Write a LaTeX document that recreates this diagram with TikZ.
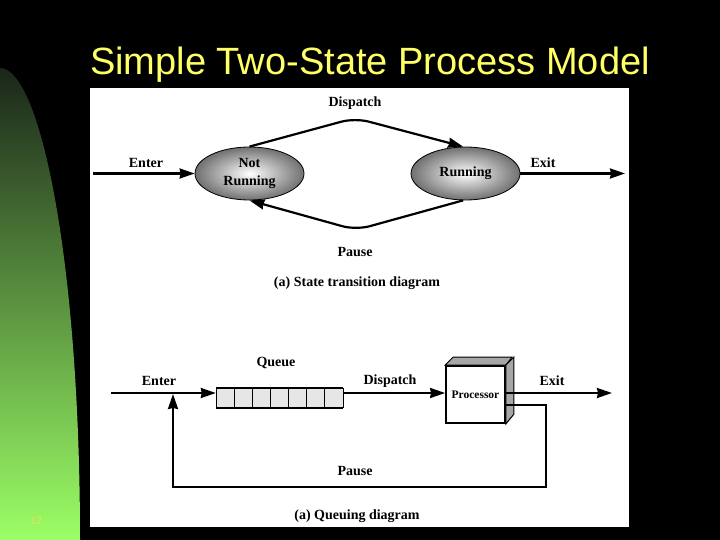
\documentclass[tikz,border=0pt]{standalone}
\usepackage{fontspec}
\setmainfont{Liberation Serif}
\newfontfamily\titlefont{Liberation Sans}
\usetikzlibrary{arrows.meta,shapes.geometric}
\definecolor{titleyellow}{HTML}{FFFF66}
\definecolor{greentop}{HTML}{1A261A}
\definecolor{greenbot}{HTML}{9CFF66}
\definecolor{numyellow}{HTML}{E8E060}
\definecolor{cellgray}{HTML}{E6E6E6}
\definecolor{facegray}{HTML}{A6A6A6}
\begin{document}
\begin{tikzpicture}[x=1pt,y=-1pt,
  lbl/.style={font=\fontsize{14}{18}\selectfont\bfseries, inner sep=0pt},
  conn/.style={line width=2.2pt, -{Stealth[length=15pt,width=10pt,inset=1pt]}},
  statenode/.style={ellipse, draw=black, line width=0.8pt, minimum width=109pt, minimum height=53pt,
     inner sep=0pt, inner color=white, outer color=black!56, align=center, lbl}]
% background
\path[use as bounding box, fill=black] (0,0) rectangle (720,540);
\shade[top color=greentop, bottom color=greenbot]
  (0,68) .. controls (40,68) and (80,260) .. (80,540) -- (0,540) -- cycle;
\node[font=\titlefont\fontsize{38}{40}\selectfont, text=titleyellow, inner sep=0pt, anchor=base] (title) at (370,75) {Simple Two-State Process Model};
\node[font=\titlefont\fontsize{11}{12}\selectfont, text=numyellow, inner sep=0pt] (slidenum) at (36,521) {12};
\fill[white] (90,88) rectangle (629,527);

% ---------- (a) state transition diagram ----------
\node[statenode] (notrun) at (249.5,173.5) {Not\\Running};
\node[statenode] (running) at (465.5,173.5) {Running};
\coordinate (enterA) at (93,173.5);
\coordinate (exitA) at (625,173.5);
\coordinate (dtop) at (355,118);
\coordinate (pbot) at (356,230);
\draw[conn] (enterA) -- (notrun.west);
\draw[conn] (running.east) -- (exitA);
\draw[conn, rounded corners=14pt] (notrun.north) -- (dtop) -- (running.95);
\draw[conn, rounded corners=14pt] (running.265) -- (pbot) -- (notrun.south);
\node[lbl] (enterAl) at (146,163) {Enter};
\node[lbl] (exitAl) at (543,163) {Exit};
\node[lbl] (dispAl) at (355,103) {Dispatch};
\node[lbl] (pauseAl) at (355,252) {Pause};
\node[lbl] (capA) at (357,283) {(a) State transition diagram};

% ---------- (b) queuing diagram ----------
\fill[cellgray] (216,388) rectangle (343,408);
\foreach \i in {1,...,6} \draw[line width=0.8pt] (216+\i*18.14,388) -- (216+\i*18.14,408);
\draw[line width=0.8pt] (216,388) -- (216,408) (343,388) -- (343,408);
\draw[line width=2.4pt] (216,388) -- (343,388) (216,408) -- (343,408);
\node[minimum width=127pt, minimum height=20pt, inner sep=0pt] (queue) at (279.5,398) {};

\node[draw=black, fill=white, line width=1.8pt, minimum width=59pt, minimum height=57pt, inner sep=0pt,
      font=\fontsize{11.5}{12}\selectfont\bfseries] (proc) at (475.5,394.5) {Processor};
\fill[facegray, draw=black, line width=1pt] (proc.north west) -- ++(8,-8) -- ++(59,0) -- (proc.north east) -- cycle;
\fill[facegray, draw=black, line width=1pt] (proc.north east) -- ++(8,-8) -- ++(0,57) -- (proc.south east) -- cycle;

\coordinate (enterB) at (111,393);
\coordinate (exitB) at (612,393);
\coordinate (pr1) at (546,405);
\coordinate (pr2) at (546,487);
\coordinate (pl1) at (173,487);
\coordinate (pl2) at (173,394);
\draw[conn] (enterB) -- (enterB -| queue.west);
\draw[conn] (queue.east |- 0,393) -- (proc.west |- 0,393);
\draw[conn] (proc.east |- 0,393) -- (exitB);
\draw[conn] (proc.east |- pr1) -- (pr1) -- (pr2) -- (pl1) -- (pl2);

\node[lbl] (enterBl) at (159,381) {Enter};
\node[lbl] (queueBl) at (276,363) {Queue};
\node[lbl] (dispBl) at (390,381) {Dispatch};
\node[lbl] (exitBl) at (552,381) {Exit};
\node[lbl] (pauseBl) at (355,471) {Pause};
\node[lbl] (capB) at (357,516) {(a) Queuing diagram};
\end{tikzpicture}
\end{document}
